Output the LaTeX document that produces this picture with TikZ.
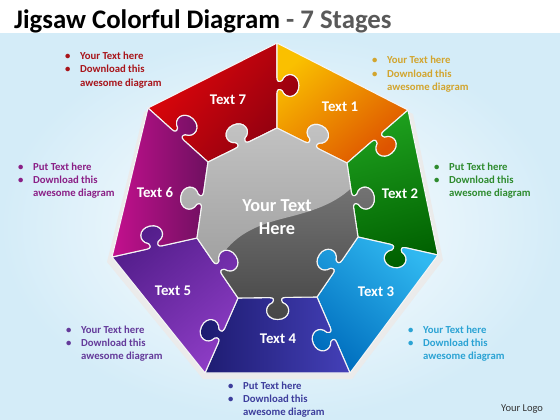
\documentclass[tikz,border=0pt]{standalone}
\usepackage{fontspec}
\setmainfont{Carlito}
\usetikzlibrary{calc}
\definecolor{bgblue}{HTML}{D4ECF8}
\definecolor{titlegray}{HTML}{595959}
\definecolor{tred}{HTML}{A8141A}
\definecolor{tgold}{HTML}{D2A52E}
\definecolor{tmag}{HTML}{8A1F86}
\definecolor{tgreen}{HTML}{2E8B2E}
\definecolor{tviolet}{HTML}{643A9A}
\definecolor{tcyan}{HTML}{2BA3D4}
\definecolor{tnavy}{HTML}{3D3D9C}
\newcommand\blist[3]{\begin{tabular}[t]{@{}l@{}l@{}}\makebox[15pt][l]{\textbullet}& #1\\ \makebox[15pt][l]{\textbullet}& #2\\ & #3\end{tabular}}
\tikzset{
  jig/.style={to path={
    -- ($(\tikztostart)!0.5!(\tikztotarget)!-8pt!(\tikztotarget)$)
    .. controls ($(\tikztostart)!0.5!(\tikztotarget)!-4pt!(\tikztotarget)$)
       and ($(\tikztostart)!0.5!(\tikztotarget)!-3pt!(\tikztotarget)!2pt!#1:(\tikztotarget)$)
    .. ($(\tikztostart)!0.5!(\tikztotarget)!-5pt!(\tikztotarget)!5pt!#1:(\tikztotarget)$)
    .. controls ($(\tikztostart)!0.5!(\tikztotarget)!-15pt!(\tikztotarget)!9pt!#1:(\tikztotarget)$)
       and ($(\tikztostart)!0.5!(\tikztotarget)!-12pt!(\tikztotarget)!22pt!#1:(\tikztotarget)$)
    .. ($(\tikztostart)!0.5!(\tikztotarget)!22pt!#1:(\tikztotarget)$)
    .. controls ($(\tikztostart)!0.5!(\tikztotarget)!12pt!(\tikztotarget)!22pt!#1:(\tikztotarget)$)
       and ($(\tikztostart)!0.5!(\tikztotarget)!15pt!(\tikztotarget)!9pt!#1:(\tikztotarget)$)
    .. ($(\tikztostart)!0.5!(\tikztotarget)!5pt!(\tikztotarget)!5pt!#1:(\tikztotarget)$)
    .. controls ($(\tikztostart)!0.5!(\tikztotarget)!3pt!(\tikztotarget)!2pt!#1:(\tikztotarget)$)
       and ($(\tikztostart)!0.5!(\tikztotarget)!4pt!(\tikztotarget)$)
    .. ($(\tikztostart)!0.5!(\tikztotarget)!8pt!(\tikztotarget)$)
    -- (\tikztotarget)
  }},
  piece/.style={draw=white!92!gray, line width=1.1pt, line join=round},
  plabel/.style={text=white, font=\bfseries\fontsize{14.8}{15}\selectfont},
  bul/.style={anchor=base west, inner sep=0pt, font=\bfseries\fontsize{10.7}{13.3}\selectfont},
}
\begin{document}
\begin{tikzpicture}[x=1pt,y=-1pt]
\useasboundingbox (0,0) rectangle (560,420);
% background
\shade[inner color=white, outer color=bgblue] (0,33) rectangle (560,420);
\fill[white] (0,0) rectangle (560,33);
% title
\node[anchor=base west, inner sep=0pt, font=\bfseries\fontsize{26.8}{27}\selectfont] (title) at (14,29)
  {Jigsaw Colorful Diagram \textcolor{titlegray}{- 7 Stages}};
% geometry
\coordinate (V0) at (277,43);
\coordinate (V1) at (408,110);
\coordinate (V2) at (438,255);
\coordinate (V3) at (350,373);
\coordinate (V4) at (205,373);
\coordinate (V5) at (112,257);
\coordinate (V6) at (148,108);
\coordinate (I0) at (277,128);
\coordinate (I1) at (347,163);
\coordinate (I2) at (358,237);
\coordinate (I3) at (317,297);
\coordinate (I4) at (238,298);
\coordinate (I5) at (197,238);
\coordinate (I6) at (208,162);
% shadow
\fill[black!12] ([shift={(3,4)}]V0) -- ([shift={(3,4)}]V1) -- ([shift={(3,4)}]V2) -- ([shift={(3,4)}]V3) -- ([shift={(3,4)}]V4) -- ([shift={(3,4)}]V5) -- ([shift={(3,4)}]V6) -- cycle;
\fill[black!8] ([shift={(-2,4)}]V0) -- ([shift={(5,4)}]V1) -- ([shift={(5,5)}]V2) -- ([shift={(2,6)}]V3) -- ([shift={(-2,6)}]V4) -- ([shift={(-5,5)}]V5) -- ([shift={(-4,4)}]V6) -- cycle;
% pieces
\shade[piece, top color={rgb,255:red,226;green,6;blue,10}, bottom color={rgb,255:red,140;green,0;blue,16}, shading angle=50]
  (V6) -- (V0) to[jig=90] (I0) to[jig=-90] (I6) to[jig=-90] (V6) -- cycle;
\shade[piece, top color={rgb,255:red,250;green,192;blue,0}, bottom color={rgb,255:red,222;green,84;blue,0}, shading angle=40]
  (V0) -- (V1) to[jig=90] (I1) to[jig=-90] (I0) to[jig=-90] (V0) -- cycle;
\shade[piece, top color={rgb,255:red,30;green,160;blue,30}, bottom color={rgb,255:red,0;green,96;blue,0}, shading angle=15]
  (V1) -- (V2) to[jig=90] (I2) to[jig=-90] (I1) to[jig=-90] (V1) -- cycle;
\shade[piece, top color={rgb,255:red,48;green,184;blue,240}, bottom color={rgb,255:red,0;green,110;blue,190}, shading angle=-40]
  (V2) -- (V3) to[jig=90] (I3) to[jig=90] (I2) to[jig=-90] (V2) -- cycle;
\shade[piece, left color={rgb,255:red,28;green,26;blue,110}, right color={rgb,255:red,68;green,64;blue,184}]
  (V3) -- (V4) to[jig=90] (I4) to[jig=-90] (I3) to[jig=-90] (V3) -- cycle;
\shade[piece, top color={rgb,255:red,84;green,30;blue,140}, bottom color={rgb,255:red,140;green,60;blue,196}, shading angle=40]
  (V4) -- (V5) to[jig=90] (I5) to[jig=90] (I4) to[jig=-90] (V4) -- cycle;
\shade[piece, left color={rgb,255:red,196;green,16;blue,142}, right color={rgb,255:red,110;green,16;blue,96}]
  (V5) -- (V6) to[jig=90] (I6) to[jig=-90] (I5) to[jig=-90] (V5) -- cycle;
% centre
\shade[top color={rgb,255:red,138;green,138;blue,138}, bottom color={rgb,255:red,70;green,70;blue,70}]
  (I0) to[jig=90] (I1) to[jig=90] (I2) to[jig=-90] (I3) to[jig=90] (I4) to[jig=-90] (I5) to[jig=90] (I6) to[jig=90] (I0) -- cycle;
\begin{scope}
\clip (I0) to[jig=90] (I1) to[jig=90] (I2) to[jig=-90] (I3) to[jig=90] (I4) to[jig=-90] (I5) to[jig=90] (I6) to[jig=90] (I0) -- cycle;
\shade[top color={rgb,255:red,200;green,200;blue,200}, bottom color={rgb,255:red,150;green,150;blue,150}]
  (150,100) -- (150,310) -- (205,292) .. controls (220,242) and (245,228) .. (285,218)
  .. controls (325,208) and (352,198) .. (372,160) -- (380,100) -- cycle;
\end{scope}
\draw[piece]
  (I0) to[jig=90] (I1) to[jig=90] (I2) to[jig=-90] (I3) to[jig=90] (I4) to[jig=-90] (I5) to[jig=90] (I6) to[jig=90] (I0) -- cycle;
% labels
\node[plabel] (t7) at (228,100) {Text 7};
\node[plabel] (t1) at (340,107) {Text 1};
\node[plabel] (t2) at (400,194) {Text 2};
\node[plabel] (t3) at (376,292) {Text 3};
\node[plabel] (t4) at (278,339) {Text 4};
\node[plabel] (t5) at (173,291) {Text 5};
\node[plabel] (t6) at (155,193) {Text 6};
\node[text=white, font=\bfseries\fontsize{18.3}{23}\selectfont, align=center] (centre) at (277,217) {Your Text\\Here};
% bullet texts
\node[bul, text=tred] (b7) at (65,59.5) {\blist{Your Text here}{Download this}{awesome diagram}};
\node[bul, text=tgold] (b1) at (372,64) {\blist{Your Text here}{Download this}{awesome diagram}};
\node[bul, text=tmag] (b6) at (18,170) {\blist{Put Text here}{Download this}{awesome diagram}};
\node[bul, text=tgreen] (b2) at (434,170) {\blist{Put Text here}{Download this}{awesome diagram}};
\node[bul, text=tviolet] (b5) at (66,333) {\blist{Your Text here}{Download this}{awesome diagram}};
\node[bul, text=tcyan] (b3) at (408,333) {\blist{Your Text here}{Download this}{awesome diagram}};
\node[bul, text=tnavy] (b4) at (228,389) {\blist{Put Text here}{Download this}{awesome diagram}};
\node[anchor=base west, inner sep=0pt, text=black!80, font=\fontsize{10.5}{12}\selectfont] (logo) at (501,411) {Your Logo};
\end{tikzpicture}
\end{document}
